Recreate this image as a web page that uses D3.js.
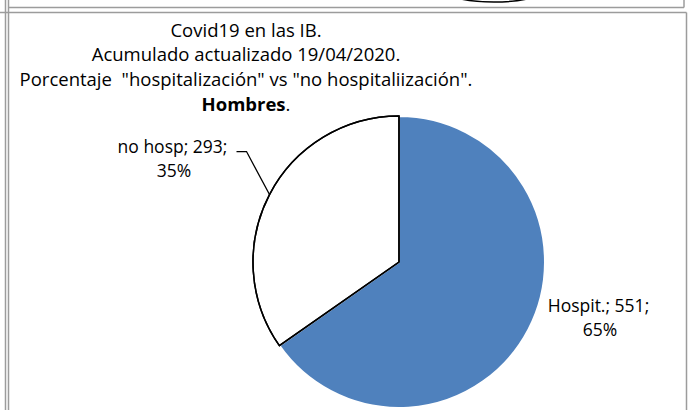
<!DOCTYPE html>
<meta charset="utf-8">
<style>

body {
  margin: 0;
  background: #fff;
}

text {
  font-family: "Open Sans", "Noto Sans", sans-serif;
  fill: #000;
  white-space: pre;
}

.frame {
  stroke: #9c9c9c;
  stroke-width: 1.5px;
  fill: none;
}

</style>
<body>
<script src="https://cdnjs.cloudflare.com/ajax/libs/d3/7.8.5/d3.min.js"></script>
<script>

var width = 688,
    height = 410;

// data
var categories = ["Hospit.", "no hosp"],
    counts = [551, 293],
    percents = ["65%", "35%"],
    colors = ["#4f81bd", "#ffffff"];

var titleLines = [
  "Covid19 en las IB.",
  "Acumulado actualizado 19/04/2020.",
  "Porcentaje  \"hospitalización\" vs \"no hospitaliización\"."
];

var svg = d3.select("body").append("svg")
    .attr("width", width)
    .attr("height", height);

// bits of the frame (and the chart above it)
svg.append("ellipse")
    .attr("cx", 494)
    .attr("cy", -13)
    .attr("rx", 55)
    .attr("ry", 15)
    .attr("fill", "none")
    .attr("stroke", "#000")
    .attr("stroke-width", 1.5);

var frame = svg.append("g").attr("class", "frame");
frame.append("line").attr("x1", 5.5).attr("x2", 5.5).attr("y1", 0).attr("y2", height);
frame.append("line").attr("x1", 8.5).attr("x2", 8.5).attr("y1", 0).attr("y2", height);
frame.append("line").attr("x1", 8.5).attr("x2", 684).attr("y1", 7.5).attr("y2", 7.5);
frame.append("line").attr("x1", 684).attr("x2", 684).attr("y1", 0).attr("y2", 7.5);
frame.append("line").attr("x1", 0).attr("x2", 686.5).attr("y1", 12.5).attr("y2", 12.5);
frame.append("line").attr("x1", 686.5).attr("x2", 686.5).attr("y1", 12.5).attr("y2", height);

// title
var title = svg.append("text")
    .attr("text-anchor", "middle")
    .style("font-size", "18.5px");

titleLines.forEach(function(t, i) {
  title.append("tspan")
      .attr("x", 246)
      .attr("y", 36.5 + i * 24.8)
      .text(t);
});

var last = title.append("tspan")
    .attr("x", 246)
    .attr("y", 36.5 + 3 * 24.8);
last.append("tspan").style("font-weight", "bold").text("Hombres");
last.append("tspan").text(".");

// pie
var cx = 399,
    cy = 262,
    radius = 146;

var pie = d3.pie()
    .sort(null)
    .value(function(d) { return d; });

var arcs = pie(counts);

var arc = d3.arc()
    .innerRadius(0)
    .outerRadius(radius);

var edge = d3.arc()
    .innerRadius(radius)
    .outerRadius(radius);

var g = svg.append("g")
    .attr("transform", "translate(" + cx + "," + cy + ")");

g.selectAll("path")
    .data(arcs)
  .enter().append("path")
    .attr("d", arc)
    .attr("fill", function(d, i) { return colors[i]; })
    .attr("stroke", function(d, i) { return i === 0 ? "#fff" : "#000"; })
    .attr("stroke-width", function(d, i) { return i === 0 ? 2 : 1.5; })
    .attr("stroke-linejoin", "round");

// keep the black outline on top
g.append("path")
    .datum(arcs[1])
    .attr("d", arc)
    .attr("fill", "none")
    .attr("stroke", "#000")
    .attr("stroke-width", 1.5);

// labels
arcs.forEach(function(d, i) {
  var p = edge.centroid(d),
      right = p[0] > 0,
      lx, ly;

  if (right) {
    lx = p[0] + 70;
    ly = p[1] - 17;
  } else {
    lx = p[0] - 97;
    ly = p[1] - 42;
    g.append("polyline")
        .attr("points", [p, [p[0] - 23, ly - 1], [p[0] - 33, ly - 1]].join(" "))
        .attr("fill", "none")
        .attr("stroke", "#000")
        .attr("stroke-width", 1.3);
  }

  var t = g.append("text")
      .attr("text-anchor", "middle")
      .style("font-size", "17.5px");
  t.append("tspan")
      .attr("x", lx)
      .attr("y", ly)
      .text(categories[i] + "; " + counts[i] + ";");
  t.append("tspan")
      .attr("x", lx + 1.5)
      .attr("y", ly + 24)
      .text(percents[i]);
});

</script>
